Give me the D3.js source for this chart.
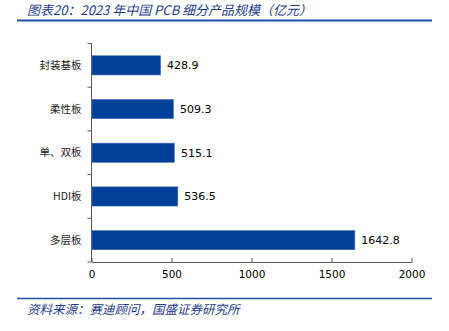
<!DOCTYPE html>
<html><head><meta charset="utf-8">
<script src="https://cdn.jsdelivr.net/npm/d3@7"></script>
<style>body{margin:0;background:#fff}svg{display:block}</style>
</head><body>
<script>
const categories = ["封装基板","柔性板","单、双板","HDI板","多层板"];
const values = [428.9, 509.3, 515.1, 536.5, 1642.8];
const xTicks = [0, 500, 1000, 1500, 2000];
const titleText = "图表20：2023 年中国 PCB 细分产品规模（亿元）";
const sourceText = "资料来源：赛迪顾问，国盛证券研究所";

const W = 449, H = 331;
const svg = d3.select("body").append("svg").attr("width", W).attr("height", H);
const blue = "#1F3C88";

svg.append("text").attr("x", 27).attr("y", 15)
  .attr("font-family", "Noto Sans CJK SC").attr("font-size", 13).attr("font-style", "italic")
  .attr("fill", blue).text(titleText);
svg.append("line").attr("x1", 17).attr("x2", 432).attr("y1", 20.5).attr("y2", 20.5)
  .attr("stroke", "#2250A8").attr("stroke-width", 2);
svg.append("line").attr("x1", 17).attr("x2", 432).attr("y1", 298.5).attr("y2", 298.5)
  .attr("stroke", "#2250A8").attr("stroke-width", 1.5);
svg.append("text").attr("x", 27).attr("y", 314)
  .attr("font-family", "Noto Sans CJK SC").attr("font-size", 12.5).attr("font-style", "italic")
  .attr("fill", blue).text(sourceText);

const x = d3.scaleLinear().domain([0, 2000]).range([91.5, 411.5]);
const y = d3.scaleBand().domain(categories).range([43.5, 262]).paddingInner(0.56).paddingOuter(0.28);

const axisColor = "#595959";
const xg = svg.append("g").attr("transform", "translate(0,262)")
  .call(d3.axisBottom(x).tickValues(xTicks).tickSize(4).tickSizeOuter(0).tickFormat(d3.format("d")));
xg.select(".domain").attr("stroke", axisColor);
xg.selectAll(".tick line").attr("stroke", axisColor).attr("transform","translate(0,-4)").attr("y2", 4);
xg.selectAll(".tick text").attr("font-family", "DejaVu Sans").attr("font-size", 10.5).attr("fill", "#000").attr("y", 9);

// y axis with ticks at band boundaries
const yg = svg.append("g").attr("transform", "translate(91.5,0)");
yg.append("line").attr("y1", 43.5).attr("y2", 262).attr("stroke", axisColor);
const bounds = d3.range(categories.length + 1).map(i => 43.5 + i * (218.5 / categories.length));
yg.selectAll("line.t").data(bounds).enter().append("line").attr("class","t")
  .attr("x1", -4).attr("x2", 0).attr("y1", d => d).attr("y2", d => d).attr("stroke", axisColor);
yg.selectAll("text").data(categories).enter().append("text")
  .attr("x", -10).attr("y", d => y(d) + y.bandwidth() / 2).attr("dy", "0.35em")
  .attr("text-anchor", "end").attr("font-family", "Noto Sans CJK SC").attr("font-size", 10.5)
  .attr("fill", "#222").text(d => d);

svg.selectAll("rect.bar").data(values).enter().append("rect").attr("class","bar")
  .attr("x", x(0) + 0.5).attr("y", (d, i) => y(categories[i]))
  .attr("width", d => x(d) - x(0)).attr("height", y.bandwidth())
  .attr("fill", "#003F98").attr("stroke", "#4A76C0").attr("stroke-width", 0.6);

svg.selectAll("text.lbl").data(values).enter().append("text").attr("class","lbl")
  .attr("x", d => x(d) + 7).attr("y", (d, i) => y(categories[i]) + y.bandwidth() / 2).attr("dy", "0.35em")
  .attr("font-family", "DejaVu Sans").attr("font-size", 11).attr("fill", "#000")
  .text(d => d3.format(".1f")(d));
</script>
</body></html>
